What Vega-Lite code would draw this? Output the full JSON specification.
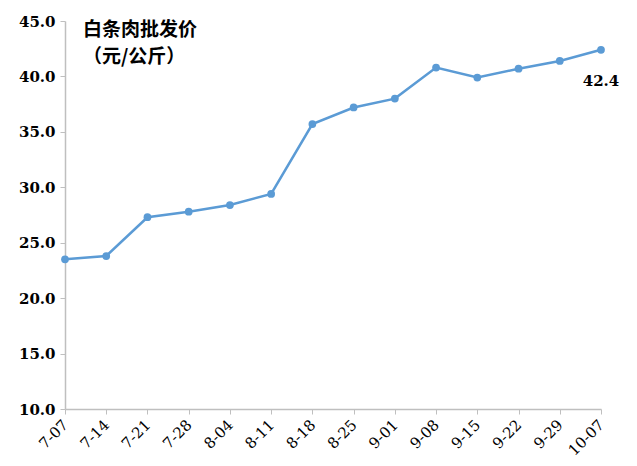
{
  "$schema": "https://vega.github.io/schema/vega-lite/v6.json",
  "width": 536,
  "height": 388,
  "autosize": {"type": "none"},
  "padding": {"left": 65, "top": 21, "right": 36, "bottom": 57},
  "background": "white",
  "config": {"view": {"stroke": null}},
  "data": {"values": [
    {"date": "7-07", "price": 23.5},
    {"date": "7-14", "price": 23.8},
    {"date": "7-21", "price": 27.3},
    {"date": "7-28", "price": 27.8},
    {"date": "8-04", "price": 28.4},
    {"date": "8-11", "price": 29.4},
    {"date": "8-18", "price": 35.7},
    {"date": "8-25", "price": 37.2},
    {"date": "9-01", "price": 38.0},
    {"date": "9-08", "price": 40.8},
    {"date": "9-15", "price": 39.9},
    {"date": "9-22", "price": 40.7},
    {"date": "9-29", "price": 41.4},
    {"date": "10-07", "price": 42.4}
  ]},
  "encoding": {
    "x": {"field": "date", "type": "ordinal", "sort": null,
      "scale": {"type": "point", "padding": 0},
      "axis": {"title": null, "labelAngle": -45, "labelAlign": "right", "labelBaseline": "middle",
        "labelFont": "DejaVu Serif", "labelFontSize": 15, "labelColor": "#000000", "labelPadding": 8,
        "domainColor": "#BFBFBF", "tickColor": "#BFBFBF", "tickSize": 5, "domainWidth": 1.5, "grid": false}},
    "y": {"field": "price", "type": "quantitative",
      "scale": {"domain": [10, 45], "nice": false, "zero": false},
      "axis": {"title": null, "values": [10, 15, 20, 25, 30, 35, 40, 45], "format": ".1f",
        "labelFont": "DejaVu Serif", "labelFontSize": 15, "labelFontWeight": "bold", "labelColor": "#000000",
        "labelPadding": 5, "domainColor": "#BFBFBF", "tickColor": "#BFBFBF", "tickSize": 5, "domainWidth": 1.5, "grid": false}}
  },
  "layer": [
    {"mark": {"type": "line", "color": "#5B9BD5", "strokeWidth": 2.5,
      "point": {"filled": true, "color": "#5B9BD5", "size": 60}}},
    {"transform": [{"filter": "datum.date === '10-07'"}],
      "mark": {"type": "text", "dy": 31, "align": "center", "font": "DejaVu Serif", "fontSize": 15, "fontWeight": "bold", "color": "#000000"},
      "encoding": {"text": {"field": "price", "type": "quantitative", "format": ".1f"}}},
    {"data": {"values": [{"d": "7-07", "v": 45, "t": ["白条肉批发价", "（元/公斤）"]}]},
      "mark": {"type": "text", "align": "left", "baseline": "top", "dx": 18, "dy": 0, "font": "Noto Sans CJK SC", "fontSize": 19, "fontWeight": "bold", "lineHeight": 27, "color": "#000000"},
      "encoding": {
        "x": {"field": "d", "type": "ordinal"},
        "y": {"field": "v", "type": "quantitative"},
        "text": {"field": "t"}}}
  ]
}
